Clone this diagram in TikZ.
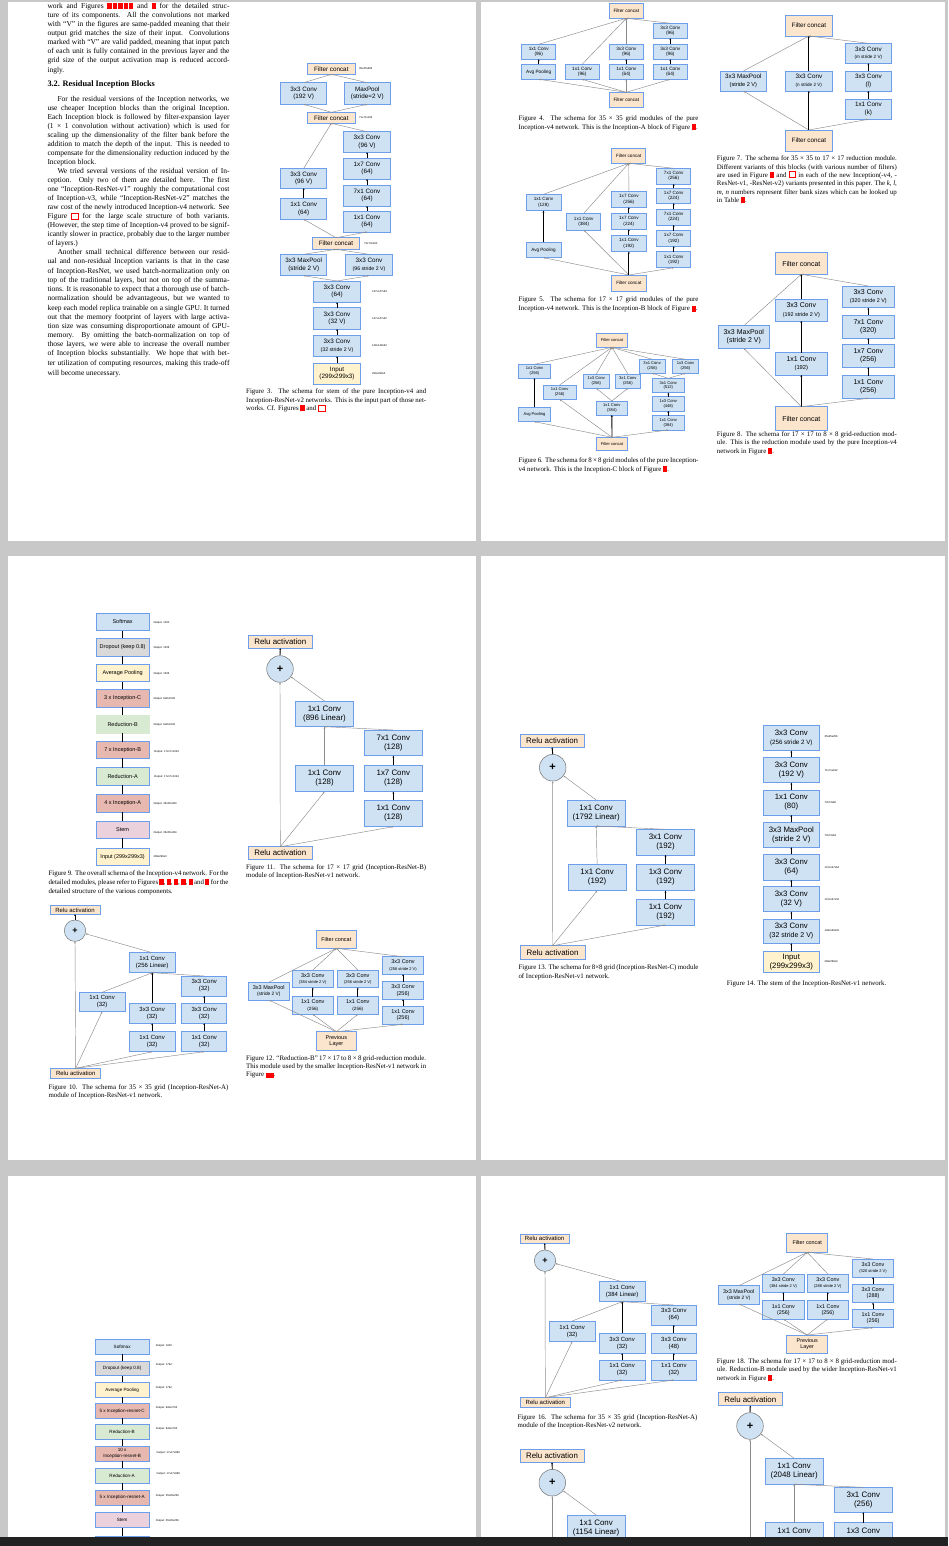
\documentclass[tikz,border=0pt]{standalone}
\usepackage{fontspec}
\setmainfont{Liberation Serif}
\newfontfamily\arial{Liberation Sans}
\usetikzlibrary{arrows.meta}
\definecolor{bfill}{HTML}{CFE2F3}
\definecolor{bord}{HTML}{6D9EEB}
\definecolor{peach}{HTML}{FCE5CD}
\definecolor{ylw}{HTML}{FFF2CC}
\definecolor{redb}{HTML}{E6B8AF}
\definecolor{grnb}{HTML}{D9EAD3}
\definecolor{pnkb}{HTML}{EAD1DC}
\definecolor{gryb}{HTML}{D9D9D9}
\definecolor{bgc}{HTML}{C8C8C8}
\definecolor{band}{HTML}{222222}
\newcommand\af[2]{\arial\fontsize{#1}{#2}\selectfont}
\newcommand\bodyf{\fontsize{7.5}{9}\selectfont}
\newcommand\capf{\fontsize{6.9}{8.5}\selectfont}
\newcommand\rb{\textcolor{red}{\rule[-0.8pt]{4.2pt}{6pt}}}
\newcommand\ro{{\color{red}\fboxsep=0pt\fboxrule=0.8pt\fbox{\rule{0pt}{5pt}\hspace{6pt}}}}
\newcommand\rw{\textcolor{red}{\rule[-0.8pt]{8pt}{5pt}}}
\newcount\tcn
\def\curf{\bodyf}
\newcommand\jline[4]{\global\advance\tcn by 1 \edef\tnm{t\the\tcn}\node[txt,font=\curf] (\tnm) at (#1,#2) {\makebox[#3pt][s]{#4}};}
\newcommand\lline[3]{\global\advance\tcn by 1 \edef\tnm{t\the\tcn}\node[txt,font=\curf] (\tnm) at (#1,#2) {#3};}
\newcommand\bx[7]{\pgfmathsetmacro\bxw{#4-#2}\pgfmathsetmacro\bxh{#5-#3}\pgfmathsetmacro\bxx{(#2+#4)/2}\pgfmathsetmacro\bxy{(#3+#5)/2}\node[box,minimum width=\bxw pt,minimum height=\bxh pt,#6] (#1) at (\bxx,\bxy) {#7};}
\newcommand\lb[4]{\node[lbl] (#1) at (#2,#3) {#4};}
\newcommand\up[2]{\draw[cb] (#1.north) -- (#2.south);}
\tikzset{
 box/.style={draw=bord, line width=0.6pt, fill=bfill, inner sep=0pt, outer sep=0pt, align=center},
 cg/.style={draw=black!45, line width=0.45pt, -{Stealth[length=2pt,width=1.8pt]}},
 cb/.style={draw=black, line width=0.9pt, -{Stealth[length=1.8pt,width=1.8pt]}},
 cl/.style={draw=black, line width=0.8pt},
 lbl/.style={anchor=west, inner sep=0pt, font=\af{2.7}{3}},
 txt/.style={anchor=base west, inner sep=0pt},
 pls/.style={circle, draw=black!55, fill=bfill, line width=0.5pt, inner sep=0pt}
}
\begin{document}
\begin{tikzpicture}[x=1pt,y=-1pt]
\fill[bgc] (0,0) rectangle (948,1546);
\useasboundingbox (0,0) rectangle (948,1546);
\foreach \a/\b/\c/\d in {8/2/476/541, 481/2/945/541, 8/556/476/1160, 481/556/945/1160, 8/1176/476/1546, 481/1176/945/1546}
  \fill[white] (\a,\b) rectangle (\c,\d);

% ---------------- page 1 text
\def\curf{\bodyf}
\jline{47.3}{8.5}{182}{work and Figures \rb\,\rb\,\rb\,\rb\,\rb{} and \rb{} for the detailed struc-}
\jline{47.3}{17.5}{182}{ture of its components. All the convolutions not marked}
\jline{47.3}{26.5}{182}{with “V” in the figures are same-padded meaning that their}
\jline{47.3}{35.5}{182}{output grid matches the size of their input. Convolutions}
\jline{47.3}{44.5}{182}{marked with “V” are valid padded, meaning that input patch}
\jline{47.3}{53.5}{182}{of each unit is fully contained in the previous layer and the}
\jline{47.3}{62.5}{182}{grid size of the output activation map is reduced accord-}
\lline{47.3}{72.5}{ingly.}
\lline{47.3}{86.5}{\fontsize{8.3}{10}\selectfont\bfseries 3.2. Residual Inception Blocks}
\jline{57.3}{101.2}{172}{For the residual versions of the Inception networks, we}
\jline{47.3}{110.2}{182}{use cheaper Inception blocks than the original Inception.}
\jline{47.3}{119.2}{182}{Each Inception block is followed by filter-expansion layer}
\jline{47.3}{128.2}{182}{(1 × 1 convolution without activation) which is used for}
\jline{47.3}{137.5}{182}{scaling up the dimensionality of the filter bank before the}
\jline{47.3}{146.5}{182}{addition to match the depth of the input. This is needed to}
\jline{47.3}{155.5}{182}{compensate for the dimensionality reduction induced by the}
\lline{47.3}{164.5}{Inception block.}
\jline{57.3}{173.8}{172}{We tried several versions of the residual version of In-}
\jline{47.3}{182.8}{182}{ception. Only two of them are detailed here. The first}
\jline{47.3}{191.8}{182}{one “Inception-ResNet-v1” roughly the computational cost}
\jline{47.3}{200.8}{182}{of Inception-v3, while “Inception-ResNet-v2” matches the}
\jline{47.3}{209.8}{182}{raw cost of the newly introduced Inception-v4 network. See}
\jline{47.3}{218.8}{182}{Figure \ro{} for the large scale structure of both variants.}
\jline{47.3}{227.8}{182}{(However, the step time of Inception-v4 proved to be signif-}
\jline{47.3}{236.8}{182}{icantly slower in practice, probably due to the larger number}
\lline{47.3}{245.8}{of layers.)}
\jline{57.3}{254.8}{172}{Another small technical difference between our resid-}
\jline{47.3}{263.8}{182}{ual and non-residual Inception variants is that in the case}
\jline{47.3}{273.2}{182}{of Inception-ResNet, we used batch-normalization only on}
\jline{47.3}{282.5}{182}{top of the traditional layers, but not on top of the summa-}
\jline{47.3}{291.8}{182}{tions. It is reasonable to expect that a thorough use of batch-}
\jline{47.3}{300.8}{182}{normalization should be advantageous, but we wanted to}
\jline{47.3}{310.2}{182}{keep each model replica trainable on a single GPU. It turned}
\jline{47.3}{319.2}{182}{out that the memory footprint of layers with large activa-}
\jline{47.3}{328.5}{182}{tion size was consuming disproportionate amount of GPU-}
\jline{47.3}{337.5}{182}{memory. By omitting the batch-normalization on top of}
\jline{47.3}{346.8}{182}{those layers, we were able to increase the overall number}
\jline{47.3}{355.8}{182}{of Inception blocks substantially. We hope that with bet-}
\jline{47.3}{365.2}{182}{ter utilization of computing resources, making this trade-off}
\lline{47.3}{375.2}{will become unecessary.}

% ---------------- Fig 3
\begin{scope}[every node/.append style={font=\af{6.3}{7.4}}]
\bx{f3c1}{307.7}{63.3}{355}{74.3}{fill=peach}{Filter concat}
\bx{f3a}{280.7}{82.7}{326.7}{104.3}{}{3x3 Conv\\(192 V)}
\bx{f3b}{344}{82.7}{390.7}{104.3}{}{MaxPool\\(stride=2 V)}
\bx{f3c2}{307.7}{112.3}{355}{123.3}{fill=peach}{Filter concat}
\bx{f3r1}{343.3}{131.7}{390.7}{152.3}{}{3x3 Conv\\(96 V)}
\bx{f3r2}{343.3}{158.3}{390.7}{179}{}{1x7 Conv\\(64)}
\bx{f3r3}{343.3}{185}{390.7}{206}{}{7x1 Conv\\(64)}
\bx{f3r4}{343.3}{211}{390.7}{232}{}{1x1 Conv\\(64)}
\bx{f3l1}{280.7}{168.3}{326.7}{188.3}{}{3x3 Conv\\(96 V)}
\bx{f3l2}{280.7}{198.3}{326.7}{219.3}{}{1x1 Conv\\(64)}
\bx{f3c3}{312.7}{237.7}{359.3}{249.3}{fill=peach}{Filter concat}
\bx{f3m}{280.7}{254.3}{326.7}{275.7}{}{3x3 MaxPool\\(stride 2 V)}
\bx{f3n}{345.3}{254.3}{392.7}{275.7}{}{3x3 Conv\\{\af{5.2}{6}(96 stride 2 V)}}
\bx{f3s1}{313.3}{281}{360.7}{302.3}{}{3x3 Conv\\(64)}
\bx{f3s2}{313.3}{307.7}{360.7}{329}{}{3x3 Conv\\(32 V)}
\bx{f3s3}{313.3}{335}{360.7}{356.3}{}{3x3 Conv\\{\af{5.2}{6}(32 stride 2 V)}}
\bx{f3in}{313.3}{363.3}{360.7}{384}{fill=ylw}{Input\\(299x299x3)}
\end{scope}
\lb{l3a}{359}{69}{35x35x384}
\lb{l3b}{359}{118}{71x71x192}
\lb{l3c}{364}{243.5}{73x73x160}
\lb{l3d}{372}{292}{147x147x64}
\lb{l3e}{372}{319}{147x147x32}
\lb{l3f}{372}{346}{149x149x32}
\lb{l3g}{372}{373.5}{299x299x3}
\foreach \s in {f3a,f3b} {\draw[cg] (\s.north) -- (f3c1.south); \draw[cg] (f3c2.north) -- (\s.south);}
\foreach \s in {f3l1,f3r1} \draw[cg] (\s.north) -- (f3c2.south);
\up{f3l2}{f3l1}\up{f3r4}{f3r3}\up{f3r3}{f3r2}\up{f3r2}{f3r1}
\foreach \s in {f3l2,f3r4} \draw[cg] (f3c3.north) -- (\s.south);
\foreach \s in {f3m,f3n} {\draw[cg] (\s.north) -- (f3c3.south); \draw[cg] (f3s1.north) -- (\s.south);}
\up{f3in}{f3s3}\up{f3s3}{f3s2}\up{f3s2}{f3s1}
\def\curf{\capf}
\jline{246}{393}{180}{Figure 3. The schema for stem of the pure Inception-v4 and}
\jline{246}{402}{180}{Inception-ResNet-v2 networks. This is the input part of those net-}
\lline{246}{410.5}{works. Cf. Figures \rb{} and \ro}

% ---------------- Fig 4
\begin{scope}[every node/.append style={font=\af{4.7}{5.4}}]
\bx{f4t}{609.3}{3.3}{643.3}{18.3}{fill=peach}{Filter concat}
\bx{f4r3}{653.3}{23.3}{687.3}{38.3}{}{3x3 Conv\\(96)}
\bx{f4a2}{521.7}{44.3}{555.7}{59.3}{}{1x1 Conv\\(96)}
\bx{f4c2}{609.3}{44.3}{643.3}{59.3}{}{3x3 Conv\\(96)}
\bx{f4r2}{653.3}{44.3}{687.3}{59.3}{}{3x3 Conv\\(96)}
\bx{f4a1}{521.7}{64.3}{555.7}{79.3}{}{Avg Pooling}
\bx{f4b1}{565}{64.3}{599.3}{79.3}{}{1x1 Conv\\(96)}
\bx{f4c1}{609.3}{64.3}{643.3}{79.3}{}{1x1 Conv\\(64)}
\bx{f4r1}{653.3}{64.3}{687.3}{79.3}{}{1x1 Conv\\(64)}
\bx{f4b}{609.3}{92.3}{643.3}{107.3}{fill=peach}{Filter concat}
\end{scope}
\foreach \s in {f4a2,f4b1,f4c2,f4r3} \draw[cg] (\s.north) -- (f4t.south);
\up{f4a1}{f4a2}\up{f4c1}{f4c2}\up{f4r1}{f4r2}\up{f4r2}{f4r3}
\foreach \s in {f4a1,f4b1,f4c1,f4r1} \draw[cg] (f4b.north) -- (\s.south);
\jline{518.3}{120.8}{180}{Figure 4. The schema for 35 × 35 grid modules of the pure}
\lline{518.3}{129.5}{Inception-v4 network. This is the Inception-A block of Figure \rb.}

% ---------------- Fig 5
\begin{scope}[every node/.append style={font=\af{4.6}{5.3}}]
\bx{f5t}{611.7}{148.3}{645.7}{163.3}{fill=peach}{Filter concat}
\bx{f5r5}{656.7}{168.3}{690.7}{184}{}{7x1 Conv\\(256)}
\bx{f5r4}{656.7}{188.3}{690.7}{203.3}{}{1x7 Conv\\(224)}
\bx{f5r3}{656.7}{209.3}{690.7}{225}{}{7x1 Conv\\(224)}
\bx{f5r2}{656.7}{230.7}{690.7}{246.3}{}{1x7 Conv\\(192)}
\bx{f5r1}{656.7}{251.7}{690.7}{267.7}{}{1x1 Conv\\(192)}
\bx{f5a2}{526}{194.3}{561}{210.7}{}{1x1 Conv\\(128)}
\bx{f5b}{566.7}{213.3}{600.7}{230}{}{1x1 Conv\\(384)}
\bx{f5c3}{611.7}{191.7}{646}{207.3}{}{1x7 Conv\\(256)}
\bx{f5c2}{611.7}{213.3}{646}{229.3}{}{1x7 Conv\\(224)}
\bx{f5c1}{611.7}{235}{646}{251.7}{}{1x1 Conv\\(192)}
\bx{f5a1}{526}{242.3}{561}{257.7}{}{Avg Pooling}
\bx{f5bt}{611.7}{275}{646}{291.7}{fill=peach}{Filter concat}
\end{scope}
\foreach \s in {f5a2,f5b,f5c3,f5r5} \draw[cg] (\s.north) -- (f5t.south);
\up{f5a1}{f5a2}\up{f5c1}{f5c2}\up{f5c2}{f5c3}
\up{f5r1}{f5r2}\up{f5r2}{f5r3}\up{f5r3}{f5r4}\up{f5r4}{f5r5}
\foreach \s in {f5a1,f5b,f5r1} \draw[cg] (f5bt.north) -- (\s.south);
\up{f5bt}{f5c1}
\jline{518.3}{301.8}{180}{Figure 5. The schema for 17 × 17 grid modules of the pure}
\lline{518.3}{310.8}{Inception-v4 network. This is the Inception-B block of Figure \rb.}

% ---------------- Fig 6
\begin{scope}[every node/.append style={font=\af{4.1}{4.7}}]
\bx{f6t}{596.7}{333.3}{627.3}{347.3}{fill=peach}{Filter concat}
\bx{f6a2}{518.3}{364.3}{550.7}{378.3}{}{1x1 Conv\\(256)}
\bx{f6r1}{639.3}{359.3}{665}{373.3}{}{3x1 Conv\\(256)}
\bx{f6r2}{672.7}{359.3}{698.3}{373.3}{}{1x3 Conv\\(256)}
\bx{f6c1}{583.3}{374}{609.3}{388.3}{}{1x3 Conv\\(256)}
\bx{f6c2}{615}{374}{640.7}{388.3}{}{3x1 Conv\\(256)}
\bx{f6s3}{652.3}{378.3}{684.3}{392.7}{}{3x1 Conv\\(512)}
\bx{f6b}{543.3}{385}{576}{399.3}{}{1x1 Conv\\(256)}
\bx{f6m}{596}{401}{627.7}{415}{}{1x1 Conv\\(384)}
\bx{f6s2}{652.3}{396.7}{684.3}{411}{}{1x3 Conv\\(448)}
\bx{f6s1}{652.3}{415.7}{684.3}{430}{}{1x1 Conv\\(384)}
\bx{f6a1}{518.3}{407.3}{550.7}{421.7}{}{Avg Pooling}
\bx{f6bt}{596.7}{437.3}{627.3}{450.7}{fill=peach}{Filter concat}
\end{scope}
\foreach \s in {f6a2,f6b,f6c1,f6c2,f6r1,f6r2} \draw[cg] (\s.north) -- (f6t.south);
\foreach \s in {f6c1,f6c2} \draw[cg] (f6m.north) -- (\s.south);
\foreach \s in {f6r1,f6r2} \draw[cg] (f6s3.north) -- (\s.south);
\up{f6s1}{f6s2}\up{f6s2}{f6s3}\up{f6a1}{f6a2}\up{f6bt}{f6m}
\foreach \s in {f6a1,f6b,f6s1} \draw[cg] (f6bt.north) -- (\s.south);
\jline{518.3}{462.5}{180}{Figure 6. The schema for 8 × 8 grid modules of the pure Inception-}
\lline{518.3}{471.5}{v4 network. This is the Inception-C block of Figure \rb.}

% ---------------- Fig 7
\begin{scope}[every node/.append style={font=\af{6.3}{7.6}}]
\bx{f7t}{785}{15}{832.7}{36}{fill=peach}{Filter concat}
\bx{f7m}{845}{43.3}{891.7}{63.3}{}{3x3 Conv\\{\af{4.6}{5.5}(m stride 2 V)}}
\bx{f7a}{720}{71}{766.7}{91}{}{3x3 MaxPool\\{\af{5.6}{6.5}(stride 2 V)}}
\bx{f7n}{785}{71}{832.7}{91}{}{3x3 Conv\\{\af{4.6}{5.5}(n stride 2 V)}}
\bx{f7l}{845}{71}{891.7}{91}{}{3x3 Conv\\(l)}
\bx{f7k}{845}{99}{891.7}{119.3}{}{1x1 Conv\\(k)}
\bx{f7b}{785}{130}{832.7}{151}{fill=peach}{Filter concat}
\end{scope}
\draw[cg] (f7a.north) -- (f7t.south); \up{f7n}{f7t} \draw[cg] (f7m.north) -- (f7t.south);
\up{f7k}{f7l}\up{f7l}{f7m}
\draw[cg] (f7b.north) -- (f7a.south); \up{f7b}{f7n} \draw[cg] (f7b.north) -- (f7k.south);
\jline{716.7}{160.8}{180}{Figure 7. The schema for 35 × 35 to 17 × 17 reduction module.}
\jline{716.7}{169.2}{180}{Different variants of this blocks (with various number of filters)}
\jline{716.7}{177.2}{180}{are used in Figure \rb{} and \ro{} in each of the new Inception(-v4, -}
\jline{716.7}{185.5}{180}{ResNet-v1, -ResNet-v2) variants presented in this paper. The \textit{k}, \textit{l},}
\jline{716.7}{194.2}{180}{\textit{m}, \textit{n} numbers represent filter bank sizes which can be looked up}
\lline{716.7}{202.5}{in Table \rb.}

% ---------------- Fig 8
\begin{scope}[every node/.append style={font=\af{7}{8.2}}]
\bx{f8t}{775}{252.7}{827.7}{274.3}{fill=peach}{Filter concat}
\bx{f8r4}{842.3}{286}{894.3}{307.7}{}{3x3 Conv\\{\af{5.4}{6.4}(320 stride 2 V)}}
\bx{f8c2}{775}{299.3}{827.7}{321}{}{3x3 Conv\\{\af{5.4}{6.4}(192 stride 2 V)}}
\bx{f8r3}{842.3}{315}{894.3}{338.3}{}{7x1 Conv\\(320)}
\bx{f8a}{718.3}{325.7}{769.3}{348.3}{}{3x3 MaxPool\\(stride 2 V)}
\bx{f8r2}{842.3}{344.3}{894.3}{367.3}{}{1x7 Conv\\(256)}
\bx{f8c1}{775}{352.7}{827.7}{375}{}{1x1 Conv\\{\af{5.8}{6.8}(192)}}
\bx{f8r1}{842.3}{375.7}{894.3}{398.3}{}{1x1 Conv\\(256)}
\bx{f8b}{775}{406.7}{827.7}{430.7}{fill=peach}{Filter concat}
\end{scope}
\draw[cg] (f8a.north) -- (f8t.south); \up{f8c2}{f8t} \draw[cg] (f8r4.north) -- (f8t.south);
\up{f8c1}{f8c2}\up{f8r1}{f8r2}\up{f8r2}{f8r3}\up{f8r3}{f8r4}
\draw[cg] (f8b.north) -- (f8a.south); \up{f8b}{f8c1} \draw[cg] (f8b.north) -- (f8r1.south);
\jline{716.7}{436}{180}{Figure 8. The schema for 17 × 17 to 8 × 8 grid-reduction mod-}
\jline{716.7}{444.5}{180}{ule. This is the reduction module used by the pure Inception-v4}
\lline{716.7}{453}{network in Figure \rb.}

% ---------------- Fig 9
\begin{scope}[every node/.append style={font=\af{5.5}{6.4}}]
\bx{f9a}{96}{613.3}{149.3}{630.7}{}{Softmax}
\bx{f9b}{96}{638.3}{149.3}{656}{fill=gryb}{Dropout (keep 0.8)}
\bx{f9c}{96}{664.3}{149.3}{681.7}{fill=ylw}{Average Pooling}
\bx{f9d}{96}{689.3}{149.3}{707.3}{fill=redb}{3 x Inception-C}
\bx{f9e}{96}{715}{149.3}{733.3}{fill=grnb,draw=grnb}{Reduction-B}
\bx{f9f}{96}{741.7}{149.3}{758.3}{fill=redb}{7 x Inception-B}
\bx{f9g}{96}{767.7}{149.3}{785}{fill=grnb}{Reduction-A}
\bx{f9h}{96}{794.3}{149.3}{812.3}{fill=redb}{4 x Inception-A}
\bx{f9i}{96}{821}{149.3}{838.3}{fill=pnkb}{Stem}
\bx{f9j}{96}{848.3}{149.3}{865.7}{fill=ylw}{Input (299x299x3)}
\end{scope}
\foreach \a/\b in {f9j/f9i,f9i/f9h,f9h/f9g,f9g/f9f,f9f/f9e,f9e/f9d,f9d/f9c,f9c/f9b,f9b/f9a} \draw[cl] (\a.north) -- (\b.south);
\lb{l9a}{153.3}{623}{Output: 1000}
\lb{l9b}{153.3}{648}{Output: 1536}
\lb{l9c}{153.3}{674}{Output: 1536}
\lb{l9d}{153.3}{699}{Output: 8x8x1536}
\lb{l9e}{153.3}{725}{Output: 8x8x1536}
\lb{l9f}{154}{751.5}{Output: 17x17x1024}
\lb{l9g}{154}{777}{Output: 17x17x1024}
\lb{l9h}{153.3}{804}{Output: 35x35x384}
\lb{l9i}{153.3}{833}{Output: 35x35x384}
\lb{l9j}{153.3}{857}{299x299x3}
\jline{48.3}{875.8}{180}{Figure 9. The overall schema of the Inception-v4 network. For the}
\jline{48.3}{884.2}{180}{detailed modules, please refer to Figures \rb, \rb, \rb, \rb, \rb{} and \rb{} for the}
\lline{48.3}{893.2}{detailed structure of the various components.}

% ---------------- Fig 11
\begin{scope}[every node/.append style={font=\af{7.9}{9.2}}]
\bx{f11r}{248.3}{635.7}{312.3}{648.3}{fill=peach}{Relu activation}
\node[pls,minimum size=26.6pt,font=\af{11}{12}\bfseries] (f11p) at (280,669) {+};
\bx{f11l}{295.7}{701}{353.3}{726.7}{}{1x1 Conv\\(896 Linear)}
\bx{f11r3}{364.3}{730}{422.3}{755.7}{}{7x1 Conv\\(128)}
\bx{f11m}{295.7}{765}{353.3}{791.7}{}{1x1 Conv\\(128)}
\bx{f11r2}{364.3}{765}{422.3}{791.7}{}{1x7 Conv\\(128)}
\bx{f11r1}{364.3}{800}{422.3}{826.7}{}{1x1 Conv\\(128)}
\bx{f11b}{248.3}{846.7}{312.3}{859.3}{fill=peach}{Relu activation}
\end{scope}
\up{f11p}{f11r}
\draw[cg] (f11l.north) -- (f11p);
\draw[cg] (f11b.north) -- (f11p.south);
\foreach \s in {f11m,f11r1} \draw[cg] (f11b.north) -- (\s.south);
\foreach \s in {f11m,f11r3} \draw[cg] (\s.north) -- (f11l.south);
\up{f11r1}{f11r2}\up{f11r2}{f11r3}
\jline{246}{869.2}{180}{Figure 11. The schema for 17 × 17 grid (Inception-ResNet-B)}
\lline{246}{877.5}{module of Inception-ResNet-v1 network.}

% ---------------- Fig 10
\begin{scope}[every node/.append style={font=\af{6}{7}}]
\bx{f10r}{50}{905.7}{100}{914.3}{fill=peach}{Relu activation}
\node[pls,minimum size=21.4pt,font=\af{9}{10}\bfseries] (f10p) at (75,930.7) {+};
\bx{f10l}{129.3}{952.7}{175}{972.7}{}{1x1 Conv\\(256 Linear)}
\bx{f10r3}{181.7}{976}{226.7}{996}{}{3x3 Conv\\(32)}
\bx{f10a}{79.3}{992.3}{125}{1011.7}{}{1x1 Conv\\(32)}
\bx{f10c2}{129.3}{1003.3}{175}{1023.3}{}{3x3 Conv\\(32)}
\bx{f10r2}{181.7}{1003.3}{226.7}{1023.3}{}{3x3 Conv\\(32)}
\bx{f10c1}{129.3}{1031}{175}{1051.7}{}{1x1 Conv\\(32)}
\bx{f10r1}{181.7}{1031}{226.7}{1051.7}{}{1x1 Conv\\(32)}
\bx{f10b}{50.7}{1068.3}{100.7}{1078.3}{fill=peach}{Relu activation}
\end{scope}
\up{f10p}{f10r}
\draw[cg] (f10l.north) -- (f10p);
\draw[cg] (f10b.north) -- (f10p.south);
\foreach \s in {f10a,f10c1,f10r1} \draw[cg] (f10b.north) -- (\s.south);
\foreach \s in {f10a,f10r3} \draw[cg] (\s.north) -- (f10l.south);
\up{f10c1}{f10c2}\up{f10c2}{f10l}\up{f10r1}{f10r2}\up{f10r2}{f10r3}
\jline{48.3}{1089.8}{180}{Figure 10. The schema for 35 × 35 grid (Inception-ResNet-A)}
\lline{48.3}{1097.8}{module of Inception-ResNet-v1 network.}

% ---------------- Fig 12
\begin{scope}[every node/.append style={font=\af{5.5}{6.4}}]
\bx{f12t}{316}{930.7}{356.7}{948.3}{fill=peach}{Filter concat}
\bx{f12r3}{382.7}{956.7}{423.3}{974.3}{}{3x3 Conv\\{\af{4}{5}(256 stride 2 V)}}
\bx{f12b2}{292.3}{970}{333.3}{987.7}{}{3x3 Conv\\{\af{4}{5}(384 stride 2 V)}}
\bx{f12c2}{337.3}{970}{378.3}{987.7}{}{3x3 Conv\\{\af{4}{5}(256 stride 2 V)}}
\bx{f12a}{248.3}{982.3}{289.3}{1000}{}{3x3 MaxPool\\{\af{4.8}{5.8}(stride 2 V)}}
\bx{f12r2}{382.7}{981.7}{423.3}{999.3}{}{3x3 Conv\\(256)}
\bx{f12b1}{292.3}{996.7}{333.3}{1014.3}{}{1x1 Conv\\{\af{4.6}{5.6}(256)}}
\bx{f12c1}{337.3}{996.7}{378.3}{1014.3}{}{1x1 Conv\\{\af{4.6}{5.6}(256)}}
\bx{f12r1}{382.7}{1006}{423.3}{1024.3}{}{1x1 Conv\\(256)}
\bx{f12p}{316}{1031.7}{356.7}{1050}{fill=peach}{Previous\\Layer}
\end{scope}
\foreach \s in {f12a,f12b2,f12c2,f12r3} \draw[cg] (\s.north) -- (f12t.south);
\up{f12b1}{f12b2}\up{f12c1}{f12c2}\up{f12r1}{f12r2}\up{f12r2}{f12r3}
\foreach \s in {f12a,f12b1,f12c1,f12r1} \draw[cg] (f12p.north) -- (\s.south);
\jline{246}{1060.2}{180}{Figure 12. “Reduction-B” 17 × 17 to 8 × 8 grid-reduction module.}
\jline{246}{1068.2}{180}{This module used by the smaller Inception-ResNet-v1 network in}
\lline{246}{1076.8}{Figure \rw.}

% ---------------- Fig 13
\begin{scope}[every node/.append style={font=\af{7.9}{9.2}}]
\bx{f13r}{520}{734.3}{584.3}{747.3}{fill=peach}{Relu activation}
\node[pls,minimum size=26.6pt,font=\af{11}{12}\bfseries] (f13p) at (552.7,767.7) {+};
\bx{f13l}{567.3}{800}{625}{826}{}{1x1 Conv\\(1792 Linear)}
\bx{f13r3}{636.7}{829.3}{694.3}{855}{}{3x1 Conv\\(192)}
\bx{f13m}{568.3}{864}{626}{890.7}{}{1x1 Conv\\(192)}
\bx{f13r2}{636.7}{864}{694.3}{890.7}{}{1x3 Conv\\(192)}
\bx{f13r1}{636.7}{899.3}{694.3}{925}{}{1x1 Conv\\(192)}
\bx{f13b}{520}{945.7}{585}{959}{fill=peach}{Relu activation}
\end{scope}
\up{f13p}{f13r}
\draw[cg] (f13l.north) -- (f13p);
\draw[cg] (f13b.north) -- (f13p.south);
\foreach \s in {f13m,f13r1} \draw[cg] (f13b.north) -- (\s.south);
\foreach \s in {f13m,f13r3} \draw[cg] (\s.north) -- (f13l.south);
\up{f13r1}{f13r2}\up{f13r2}{f13r3}
\jline{518.3}{969.8}{180}{Figure 13. The schema for 8×8 grid (Inception-ResNet-C) module}
\lline{518.3}{978.2}{of Inception-ResNet-v1 network.}

% ---------------- Fig 14
\begin{scope}[every node/.append style={font=\af{7.8}{9}}]
\bx{f14a}{763.3}{725}{819.3}{750.7}{}{3x3 Conv\\{\af{6.2}{7.2}(256 stride 2 V)}}
\bx{f14b}{763.3}{757.3}{819.3}{782.7}{}{3x3 Conv\\(192 V)}
\bx{f14c}{763.3}{790}{819.3}{815}{}{1x1 Conv\\(80)}
\bx{f14d}{763.3}{822.3}{819.3}{847.3}{}{3x3 MaxPool\\(stride 2 V)}
\bx{f14e}{763.3}{854.3}{819.3}{880}{}{3x3 Conv\\(64)}
\bx{f14f}{763.3}{886.7}{819.3}{911.7}{}{3x3 Conv\\(32 V)}
\bx{f14g}{763.3}{919}{819.3}{943.3}{}{3x3 Conv\\{\af{7}{8}(32 stride 2 V)}}
\bx{f14h}{763.3}{951}{819.3}{972.3}{fill=ylw}{Input\\(299x299x3)}
\end{scope}
\up{f14h}{f14g}\up{f14g}{f14f}\up{f14f}{f14e}\up{f14e}{f14d}\up{f14d}{f14c}\up{f14c}{f14b}\up{f14b}{f14a}
\lb{l14a}{824.3}{737}{35x35x256}
\lb{l14b}{824.3}{771}{71x71x192}
\lb{l14c}{824.3}{803}{73x73x80}
\lb{l14d}{824.3}{836}{73x73x64}
\lb{l14e}{824.3}{868}{147x147x64}
\lb{l14f}{824.3}{900}{147x147x32}
\lb{l14g}{824.3}{931}{149x149x32}
\lb{l14h}{824.3}{962}{299x299x3}
\lline{726.7}{985.8}{Figure 14. The stem of the Inception-ResNet-v1 network.}

% ---------------- Fig 15
\begin{scope}[every node/.append style={font=\af{4.6}{5.3}}]
\bx{f15a}{95}{1339.3}{149.3}{1354.3}{}{Softmax}
\bx{f15b}{95}{1361}{149.3}{1375.7}{fill=gryb}{Dropout (keep 0.8)}
\bx{f15c}{95}{1382.3}{149.3}{1397.3}{fill=ylw}{Average Pooling}
\bx{f15d}{95}{1403.3}{149.3}{1418.3}{fill=redb}{5 x Inception-resnet-C}
\bx{f15e}{95}{1424.3}{149.3}{1439.3}{fill=grnb}{Reduction-B}
\bx{f15f}{95}{1446}{149.3}{1461}{fill=redb}{10 x\\Inception-resnet-B}
\bx{f15g}{95}{1468.3}{149.3}{1483.3}{fill=grnb}{Reduction-A}
\bx{f15h}{95}{1490}{149.3}{1505}{fill=redb}{5 x Inception-resnet-A}
\bx{f15i}{95}{1512.3}{149.3}{1527.7}{fill=pnkb}{Stem}
\bx{f15j}{95}{1536}{149.3}{1556}{fill=ylw}{}
\end{scope}
\foreach \a/\b in {f15j/f15i,f15i/f15h,f15h/f15g,f15g/f15f,f15f/f15e,f15e/f15d,f15d/f15c,f15c/f15b,f15b/f15a} \draw[cl] (\a.north) -- (\b.south);
\lb{l15a}{155.7}{1345.5}{Output: 1000}
\lb{l15b}{155.7}{1365}{Output: 1792}
\lb{l15c}{155.7}{1387.5}{Output: 1792}
\lb{l15d}{155.7}{1408}{Output: 8x8x1792}
\lb{l15e}{155.7}{1429}{Output: 8x8x1792}
\lb{l15f}{156.5}{1452.5}{Output: 17x17x896}
\lb{l15g}{156.5}{1474}{Output: 17x17x896}
\lb{l15h}{155.7}{1495.5}{Output: 35x35x256}
\lb{l15i}{155.7}{1521}{Output: 35x35x256}

% ---------------- Fig 16
\begin{scope}[every node/.append style={font=\af{6}{7}}]
\bx{f16r}{520}{1234.3}{569.3}{1243.3}{fill=peach}{Relu activation}
\node[pls,minimum size=21.4pt,font=\af{9}{10}\bfseries] (f16p) at (545,1260.7) {+};
\bx{f16l}{599.3}{1281.7}{645}{1301.7}{}{1x1 Conv\\(384 Linear)}
\bx{f16r3}{651.7}{1305}{696}{1325}{}{3x3 Conv\\(64)}
\bx{f16a}{549.3}{1321}{595}{1341.7}{}{1x1 Conv\\(32)}
\bx{f16c2}{599.3}{1333.3}{645}{1353.3}{}{3x3 Conv\\(32)}
\bx{f16r2}{651.7}{1333.3}{696}{1353.3}{}{3x3 Conv\\(48)}
\bx{f16c1}{599.3}{1360}{645}{1380}{}{1x1 Conv\\(32)}
\bx{f16r1}{651.7}{1360}{696}{1380}{}{1x1 Conv\\(32)}
\bx{f16b}{520.7}{1397.7}{570}{1407.7}{fill=peach}{Relu activation}
\end{scope}
\up{f16p}{f16r}
\draw[cg] (f16l.north) -- (f16p);
\draw[cg] (f16b.north) -- (f16p.south);
\foreach \s in {f16a,f16c1,f16r1} \draw[cg] (f16b.north) -- (\s.south);
\foreach \s in {f16a,f16r3} \draw[cg] (\s.north) -- (f16l.south);
\up{f16c1}{f16c2}\up{f16c2}{f16l}\up{f16r1}{f16r2}\up{f16r2}{f16r3}
\jline{517.3}{1419.2}{180}{Figure 16. The schema for 35 × 35 grid (Inception-ResNet-A)}
\lline{517.3}{1427.5}{module of the Inception-ResNet-v2 network.}

% ---------------- Fig 17 (partial)
\begin{scope}[every node/.append style={font=\af{7.9}{9.2}}]
\bx{f17r}{520}{1449.3}{584}{1462.3}{fill=peach}{Relu activation}
\node[pls,minimum size=26.6pt,font=\af{11}{12}\bfseries] (f17p) at (552.3,1482.7) {+};
\bx{f17l}{567.3}{1515}{625}{1541}{}{1x1 Conv\\(1154 Linear)}
\end{scope}
\coordinate (f17o) at (552.3,1546);
\up{f17p}{f17r}
\draw[cg] (f17l.north) -- (f17p);
\draw[cg] (f17o) -- (f17p.south);

% ---------------- Fig 18
\begin{scope}[every node/.append style={font=\af{5.4}{6.3}}]
\bx{f18t}{786.7}{1233.3}{827.7}{1252.3}{fill=peach}{Filter concat}
\bx{f18r3}{852.7}{1259}{893.3}{1277.3}{}{3x3 Conv\\{\af{4}{5}(320 stride 2 V)}}
\bx{f18b2}{762.7}{1274}{804}{1292.3}{}{3x3 Conv\\{\af{4}{5}(384 stride 2 V)}}
\bx{f18c2}{807.3}{1274}{848.3}{1292.3}{}{3x3 Conv\\{\af{4}{5}(288 stride 2 V)}}
\bx{f18a}{718.3}{1285.7}{759.3}{1304}{}{3x3 MaxPool\\{\af{4.8}{5.8}(stride 2 V)}}
\bx{f18r2}{852.7}{1284.3}{893.3}{1302.7}{}{3x3 Conv\\(288)}
\bx{f18b1}{762.7}{1300.7}{804}{1319}{}{1x1 Conv\\(256)}
\bx{f18c1}{807.3}{1300.7}{848.3}{1319}{}{1x1 Conv\\(256)}
\bx{f18r1}{852.7}{1309.3}{893.3}{1327.7}{}{1x1 Conv\\(256)}
\bx{f18p}{786.7}{1335}{827.7}{1353.3}{fill=peach}{Previous\\Layer}
\end{scope}
\foreach \s in {f18a,f18b2,f18c2,f18r3} \draw[cg] (\s.north) -- (f18t.south);
\up{f18b1}{f18b2}\up{f18c1}{f18c2}\up{f18r1}{f18r2}\up{f18r2}{f18r3}
\foreach \s in {f18a,f18b1,f18c1,f18r1} \draw[cg] (f18p.north) -- (\s.south);
\jline{716.7}{1363.2}{180}{Figure 18. The schema for 17 × 17 to 8 × 8 grid-reduction mod-}
\jline{716.7}{1371.5}{180}{ule. Reduction-B module used by the wider Inception-ResNet-v1}
\lline{716.7}{1380.5}{network in Figure \rb.}

% ---------------- Fig 19 (partial)
\begin{scope}[every node/.append style={font=\af{7.9}{9.2}}]
\bx{f19r}{718.3}{1392.7}{782.3}{1405.7}{fill=peach}{Relu activation}
\node[pls,minimum size=26.6pt,font=\af{11}{12}\bfseries] (f19p) at (750,1426) {+};
\bx{f19l}{765}{1458.3}{823.3}{1484.3}{}{1x1 Conv\\(2048 Linear)}
\bx{f19r3}{834.3}{1487.3}{892.3}{1512.3}{}{3x1 Conv\\(256)}
\bx{f19m}{765}{1522.7}{823.3}{1549}{}{1x1 Conv\\\phantom{(192)}}
\bx{f19r2}{834.3}{1522.7}{892.3}{1549}{}{1x3 Conv\\\phantom{(224)}}
\end{scope}
\coordinate (f19o) at (750,1546);
\up{f19p}{f19r}
\draw[cg] (f19l.north) -- (f19p);
\draw[cg] (f19o) -- (f19p.south);
\foreach \s in {f19m,f19r3} \draw[cg] (\s.north) -- (f19l.south);
\up{f19r2}{f19r3}

% dark band at the bottom
\fill[band] (0,1537) rectangle (948,1546);
\end{tikzpicture}
\end{document}
